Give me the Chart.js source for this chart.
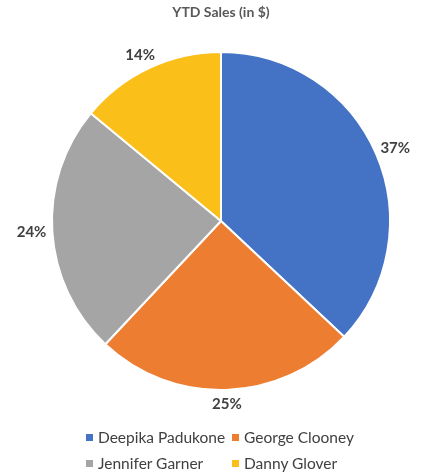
<!DOCTYPE html>
<html>
<head>
<meta charset="utf-8">
<script src="https://cdn.jsdelivr.net/npm/chart.js@4.4.1/dist/chart.umd.min.js"></script>
<style>
  body { margin: 0; background: #fff; }
  #wrap { position: relative; width: 421px; height: 475px; }
  #legend { position: absolute; left: 86px; top: 427px; width: 330px;
    font-family: Lato, "Open Sans", sans-serif; font-size: 15.5px; color: #404040; }
  .item { position: absolute; white-space: nowrap; line-height: 20px; }
  .item span { display: inline-block; width: 7px; height: 7px; margin-right: 5px; vertical-align: 2px; }
</style>
</head>
<body>
<div id="wrap">
  <canvas id="pie" width="421" height="475"></canvas>
  <div id="legend"></div>
</div>
<script>
const names = ["Deepika Padukone", "George Clooney", "Jennifer Garner", "Danny Glover"];
const shares = [37, 25, 24, 14];
const colors = ["#4472C4", "#ED7D31", "#A5A5A5", "#FBBF1A"];

// percent labels outside the slices, like excel's outside end
const outsideLabels = {
  id: 'outsideLabels',
  afterDatasetsDraw(chart) {
    const ctx = chart.ctx;
    const meta = chart.getDatasetMeta(0);
    ctx.save();
    ctx.font = 'bold 15px Lato, "Open Sans", sans-serif';
    ctx.fillStyle = '#404040';
    ctx.textAlign = 'center';
    ctx.textBaseline = 'middle';
    meta.data.forEach((arc, i) => {
      const mid = (arc.startAngle + arc.endAngle) / 2;
      const txt = shares[i] + '%';
      const w = ctx.measureText(txt).width;
      const r = arc.outerRadius + 6;
      const x = arc.x + Math.cos(mid) * (r + w / 2);
      const y = arc.y + Math.sin(mid) * (r + 8);
      ctx.fillText(txt, x, y);
    });
    ctx.restore();
  }
};

new Chart(document.getElementById('pie'), {
  type: 'pie',
  data: {
    labels: names,
    datasets: [{
      data: shares,
      backgroundColor: colors,
      borderColor: '#fff',
      borderWidth: 2
    }]
  },
  options: {
    responsive: false,
    animation: false,
    layout: { padding: { left: 51, right: 30, top: 0, bottom: 84 } },
    plugins: {
      legend: { display: false },
      tooltip: { enabled: false },
      title: {
        display: true,
        text: 'YTD Sales (in $)',
        color: '#595959',
        font: { family: 'Lato, "Open Sans", sans-serif', size: 14, weight: 'bold', lineHeight: 1.2 },
        padding: { top: 4, bottom: 30.2 }
      }
    }
  },
  plugins: [outsideLabels]
});

// legend in a 2x2 grid
const legend = document.getElementById('legend');
names.forEach((n, i) => {
  const d = document.createElement('div');
  d.className = 'item';
  d.style.left = (i % 2) * 146 + 'px';
  d.style.top = Math.floor(i / 2) * 26 + 'px';
  d.innerHTML = `<span style="background:${colors[i]}"></span>${n}`;
  legend.appendChild(d);
});
</script>
</body>
</html>
